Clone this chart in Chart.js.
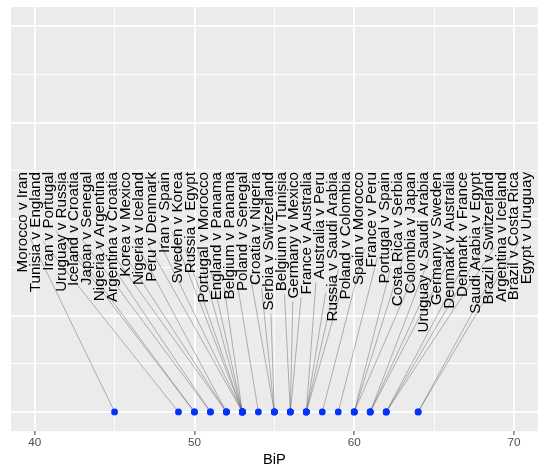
<!DOCTYPE html>
<html>
<head>
<meta charset="utf-8">
<script src="https://cdn.jsdelivr.net/npm/chart.js@4.4.1/dist/chart.umd.min.js"></script>
<style>
  html, body { margin: 0; padding: 0; background: #ffffff; }
  #wrap { width: 545px; height: 472px; }
</style>
</head>
<body>
<div id="wrap"><canvas id="bipChart"></canvas></div>
<script>
// matches, in the left-to-right order the labels sit in
const matches = [
  'Morocco v Iran', 'Tunisia v England', 'Iran v Portugal', 'Uruguay v Russia',
  'Iceland v Croatia', 'Japan v Senegal', 'Nigeria v Argentina', 'Argentina v Croatia',
  'Korea v Mexico', 'Nigeria v Iceland', 'Peru v Denmark', 'Iran v Spain',
  'Sweden v Korea', 'Russia v Egypt', 'Portugal v Morocco', 'England v Panama',
  'Belgium v Panama', 'Poland v Senegal', 'Croatia v Nigeria', 'Serbia v Switzerland',
  'Belgium v Tunisia', 'Germany v Mexico', 'France v Australia', 'Australia v Peru',
  'Russia v Saudi Arabia', 'Poland v Colombia', 'Spain v Morocco', 'France v Peru',
  'Portugal v Spain', 'Costa Rica v Serbia', 'Colombia v Japan', 'Uruguay v Saudi Arabia',
  'Germany v Sweden', 'Denmark v Australia', 'Denmark v France', 'Saudi Arabia v Egypt',
  'Brazil v Switzerland', 'Argentina v Iceland', 'Brazil v Costa Rica', 'Egypt v Uruguay'
];
const bip = [
  45, 49, 50, 50,
  51, 51, 52, 52,
  52, 53, 53, 53,
  53, 53, 53, 53,
  54, 55, 55, 55,
  56, 56, 56, 57,
  57, 57, 57, 58,
  59, 60, 60, 60,
  61, 61, 61, 62,
  62, 62, 64, 64
];
const rowY = 0;

const xTicks = [40, 50, 60, 70];
const xMinor = [45, 55, 65];
const yBreaks = [0, 1, 2, 3, 4];
const yMinor = [0.5, 1.5, 2.5, 3.5];

const labelFont = '15.2px "Liberation Sans", Arial, sans-serif';

Chart.defaults.font.family = '"Liberation Sans", Arial, sans-serif';

const panelBg = {
  id: 'panelBg',
  beforeDraw(chart) {
    const { ctx, chartArea: a } = chart;
    ctx.save();
    ctx.fillStyle = '#ebebeb';
    ctx.fillRect(a.left, a.top, a.width, a.height);
    ctx.restore();
  }
};

// rough stand-in for ggrepel: labels spread evenly, tied back to their points
function labelLayout(chart) {
  const { ctx, chartArea: a } = chart;
  const meta = chart.getDatasetMeta(0);
  const first = a.left + 11.5;
  const last = a.right - 10.5;
  const step = (last - first) / (matches.length - 1);
  const top = a.top + 165;
  ctx.save();
  ctx.font = labelFont;
  const out = matches.map((m, i) => {
    const w = ctx.measureText(m).width;
    const pt = meta.data[i];
    return { text: m, x: first + i * step, top, w, px: pt.x, py: pt.y };
  });
  ctx.restore();
  return out;
}

const repelLabels = {
  id: 'repelLabels',
  beforeDatasetsDraw(chart) {
    const ctx = chart.ctx;
    ctx.save();
    ctx.strokeStyle = 'rgba(60,60,60,0.4)';
    ctx.lineWidth = 0.9;
    labelLayout(chart).forEach(l => {
      const cx = l.x, cy = l.top + l.w / 2;
      const hw = 7.5, hh = l.w / 2 + 3;
      const dx = l.px - cx, dy = l.py - cy;
      const t = Math.min(dx === 0 ? Infinity : hw / Math.abs(dx), hh / Math.abs(dy));
      ctx.beginPath();
      ctx.moveTo(cx + t * dx, cy + t * dy);
      ctx.lineTo(l.px, l.py);
      ctx.stroke();
    });
    ctx.restore();
  },
  afterDatasetsDraw(chart) {
    const ctx = chart.ctx;
    ctx.save();
    ctx.font = labelFont;
    ctx.fillStyle = '#000000';
    ctx.textAlign = 'right';
    ctx.textBaseline = 'middle';
    labelLayout(chart).forEach(l => {
      ctx.save();
      ctx.translate(l.x, l.top);
      ctx.rotate(-Math.PI / 2);
      ctx.fillText(l.text, 0, 0);
      ctx.restore();
    });
    ctx.restore();
  }
};

const ctx = document.getElementById('bipChart').getContext('2d');
const bipChart = new Chart(ctx, {
  type: 'scatter',
  data: {
    datasets: [{
      label: 'BiP',
      data: bip.map(v => ({ x: v, y: rowY })),
      backgroundColor: '#0033ff',
      borderWidth: 0,
      pointRadius: 3.4,
      pointHoverRadius: 3.4
    }]
  },
  options: {
    responsive: true,
    maintainAspectRatio: false,
    animation: false,
    events: [],
    layout: { padding: { left: 11, top: 7, right: 7.3, bottom: 0 } },
    plugins: {
      legend: { display: false },
      tooltip: { enabled: false }
    },
    scales: {
      x: {
        type: 'linear',
        min: 38.52,
        max: 71.48,
        afterBuildTicks: s => {
          s.ticks = [...xTicks, ...xMinor].sort((a, b) => a - b).map(v => ({ value: v }));
        },
        border: { display: false },
        grid: {
          color: '#ffffff',
          lineWidth: c => xTicks.includes(c.tick.value) ? 1.8 : 0.9,
          tickColor: c => xTicks.includes(c.tick.value) ? '#333333' : 'rgba(0,0,0,0)',
          tickWidth: 1,
          tickLength: 3.7
        },
        ticks: {
          autoSkip: false,
          maxRotation: 0,
          padding: 0.5,
          color: '#4d4d4d',
          font: { size: 11.7 },
          callback: v => xTicks.includes(v) ? String(v) : ''
        },
        title: {
          display: true,
          text: 'BiP',
          color: '#000000',
          font: { size: 14.7 },
          padding: { top: 1.2, bottom: 3.2 }
        }
      },
      y: {
        type: 'linear',
        min: -0.2,
        max: 4.2,
        afterBuildTicks: s => {
          s.ticks = [...yBreaks, ...yMinor].sort((a, b) => a - b).map(v => ({ value: v }));
        },
        border: { display: false },
        grid: {
          color: '#ffffff',
          lineWidth: c => yBreaks.includes(c.tick.value) ? 1.8 : 0.9,
          drawTicks: false
        },
        ticks: { display: false }
      }
    }
  },
  plugins: [panelBg, repelLabels]
});
</script>
</body>
</html>
